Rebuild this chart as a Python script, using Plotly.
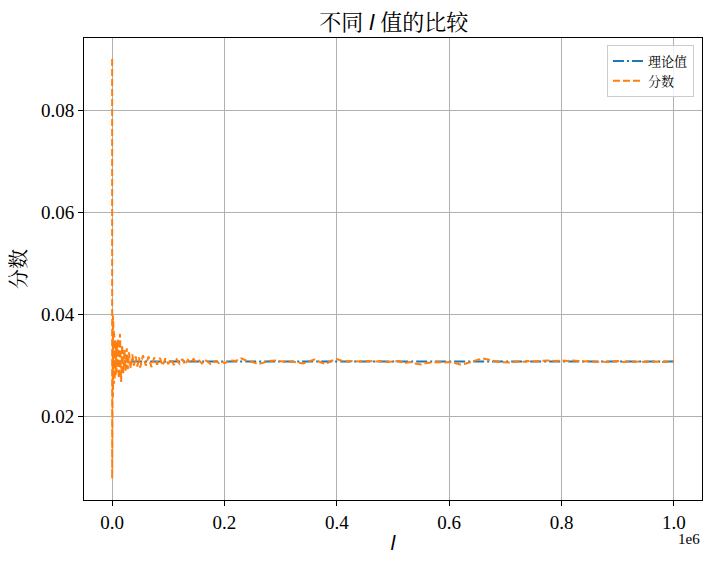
import plotly.graph_objects as go

# theoretical value of the score
theory = 0.0308

# sampled l values and the measured score, split by region
l_start = [100, 200, 300, 400, 500, 600, 700, 800, 900, 1000, 1100, 1200,
           1300, 1400, 1500, 1600, 1700, 1800, 1900, 2000, 2200, 2400, 2600,
           2800, 3000, 3200, 3400, 3600, 3800, 4000, 4300, 4600, 4900, 5200,
           5500, 5800, 6100, 6400, 6700, 7000, 7400, 7800, 8200, 8600, 9000]
score_start = [0.0900, 0.0079, 0.0467, 0.0155, 0.0452, 0.0180, 0.0440, 0.0198,
               0.0431, 0.0212, 0.0420, 0.0225, 0.0408, 0.0233, 0.0398, 0.0240,
               0.0389, 0.0247, 0.0381, 0.0252, 0.0376, 0.0256, 0.0370, 0.0260,
               0.0366, 0.0264, 0.0362, 0.0268, 0.0358, 0.0271, 0.0355, 0.0273,
               0.0351, 0.0276, 0.0347, 0.0279, 0.0344, 0.0281, 0.0340, 0.0283,
               0.0337, 0.0286, 0.0334, 0.0289, 0.0331]

l_early = [10000, 12000, 14000, 16000, 18000, 20000, 22000, 24000, 26000,
           28000, 30000, 33000, 36000, 39000, 42000, 45000, 48000]
score_early = [0.0352, 0.0275, 0.0362, 0.0268, 0.0340, 0.0285, 0.0331, 0.0290,
               0.0334, 0.0293, 0.0326, 0.0295, 0.0322, 0.0300, 0.0318, 0.0298,
               0.0316]

l_mid = [50000, 55000, 60000, 65000, 70000, 75000, 80000, 85000, 90000, 95000,
         100000, 105000, 110000, 115000, 120000, 125000, 130000, 135000, 140000,
         145000, 150000, 155000, 160000, 165000, 170000, 175000, 180000, 185000,
         190000, 195000]
score_mid = [0.0296, 0.0320, 0.0300, 0.0318, 0.0297, 0.0316, 0.0302, 0.0315,
             0.0300, 0.0314, 0.0303, 0.0313, 0.0301, 0.0312, 0.0304, 0.0313,
             0.0302, 0.0311, 0.0305, 0.0313, 0.0306, 0.0310, 0.0304, 0.0311,
             0.0308, 0.0303, 0.0306, 0.0309, 0.0305, 0.0308]

l_late = [200000, 210000, 220000, 230000, 240000, 250000, 260000, 270000,
          280000, 290000, 300000, 310000, 320000, 330000, 340000, 350000,
          360000, 370000, 380000, 390000, 400000, 410000, 420000, 430000,
          440000, 450000, 460000, 470000, 480000, 490000, 500000, 510000,
          520000, 530000, 540000, 550000, 560000, 570000, 580000, 590000,
          600000, 610000, 620000, 630000, 640000, 650000, 660000, 670000,
          680000, 690000, 700000, 710000, 720000, 730000, 740000, 750000,
          760000, 770000, 780000, 790000, 800000, 810000, 820000, 830000,
          840000, 850000, 860000, 870000, 880000, 890000, 900000, 910000,
          920000, 930000, 940000, 950000, 960000, 970000, 980000, 990000,
          1000000]
score_late = [0.0305, 0.0310, 0.0309, 0.0314, 0.0309, 0.0307, 0.0303, 0.0306,
              0.0309, 0.0310, 0.0309, 0.0307, 0.0308, 0.0306, 0.0304, 0.0308,
              0.0312, 0.0307, 0.0303, 0.0309, 0.0313, 0.0309, 0.0308, 0.0309,
              0.0308, 0.0309, 0.0308, 0.0308, 0.0309, 0.0307, 0.0308, 0.0309,
              0.0305, 0.0307, 0.0304, 0.0302, 0.0305, 0.0306, 0.0307, 0.0306,
              0.0307, 0.0305, 0.0302, 0.0304, 0.0308, 0.0311, 0.0314, 0.0311,
              0.0309, 0.0307, 0.0307, 0.0306, 0.0308, 0.0307, 0.0309, 0.0308,
              0.0309, 0.0310, 0.0310, 0.0309, 0.0310, 0.0309, 0.0310, 0.0309,
              0.0308, 0.0309, 0.0307, 0.0308, 0.0307, 0.0308, 0.0309, 0.0307,
              0.0308, 0.0307, 0.0308, 0.0307, 0.0308, 0.0308, 0.0307, 0.0308,
              0.0308]

x_ticks = [0, 200000, 400000, 600000, 800000, 1000000]
x_tick_labels = ["0.0", "0.2", "0.4", "0.6", "0.8", "1.0"]
y_ticks = [0.02, 0.04, 0.06, 0.08]
y_tick_labels = ["0.02", "0.04", "0.06", "0.08"]

l_values = l_start + l_early + l_mid + l_late
score_values = score_start + score_early + score_mid + score_late

font = "Liberation Serif, Noto Serif CJK SC, Noto Sans CJK SC, serif"
# matplotlib mathtext draws the italic l in a sans face
ital_l = '<span style="font-family:DejaVu Sans;font-style:italic">l</span>'

fig = go.Figure()
fig.add_trace(
    go.Scatter(
        x=l_values,
        y=[theory] * len(l_values),
        mode="lines",
        name="理论值",
        line=dict(color="#1f77b4", width=2, dash="11px,3px,2px,3px"),
    )
)
fig.add_trace(
    go.Scatter(
        x=l_values,
        y=score_values,
        mode="lines",
        name="分数",
        line=dict(color="#ff7f0e", width=2, dash="7px,3px"),
    )
)

axis_common = dict(
    showline=True,
    linecolor="black",
    linewidth=1,
    mirror=True,
    ticks="outside",
    ticklen=5,
    tickcolor="black",
    showgrid=True,
    gridcolor="#b0b0b0",
    gridwidth=1,
    zeroline=False,
    tickfont=dict(family=font, size=19, color="black"),
)

# the page body keeps an 8px margin, so the figure is 8px smaller each way
fig.update_layout(
    width=704,
    height=556,
    margin=dict(l=74, r=9, t=30, b=64),
    paper_bgcolor="white",
    plot_bgcolor="white",
    font=dict(family=font, color="black"),
    title=dict(
        text=f"不同 {ital_l} 值的比较",
        x=0.548,
        xanchor="center",
        y=0.974,
        yanchor="middle",
        font=dict(family=font, size=22, color="black"),
    ),
    xaxis=dict(
        range=[-50000, 1050000],
        tickvals=x_ticks,
        ticktext=x_tick_labels,
        title=dict(text=ital_l, font=dict(family=font, size=20), standoff=4),
        **axis_common,
    ),
    yaxis=dict(
        range=[0.0037, 0.0941],
        tickvals=y_ticks,
        ticktext=y_tick_labels,
        title=dict(text="分数", font=dict(family=font, size=20), standoff=10),
        **axis_common,
    ),
    legend=dict(
        x=0.987,
        y=0.985,
        xanchor="right",
        yanchor="top",
        bgcolor="rgba(255,255,255,0.8)",
        bordercolor="#cccccc",
        borderwidth=1,
        font=dict(family=font, size=13, color="black"),
        tracegroupgap=0,
        itemwidth=30,
    ),
    annotations=[
        dict(
            text="1e6",
            xref="paper",
            yref="paper",
            x=1.0,
            y=-0.085,
            xanchor="right",
            yanchor="middle",
            showarrow=False,
            font=dict(family=font, size=15, color="black"),
        )
    ],
)

fig.write_html("out.html")
